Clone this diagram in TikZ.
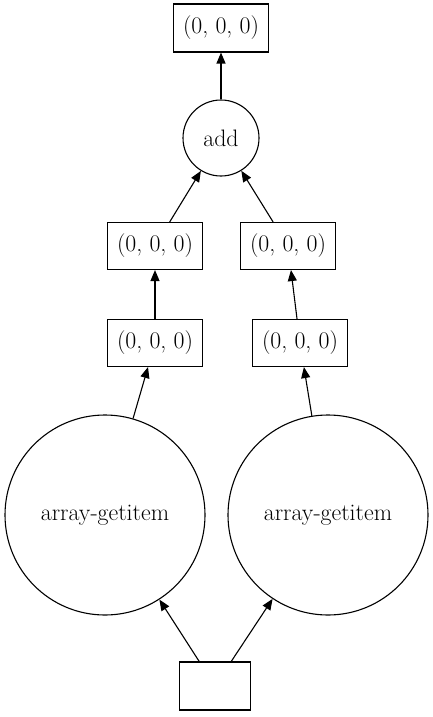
\documentclass[tikz,border=0pt]{standalone}
\usetikzlibrary{arrows.meta}
\begin{document}
\begin{tikzpicture}[x=1pt,y=-1pt,
  every node/.style={font=\fontsize{23.8}{26}\selectfont, line width=1.1pt, inner sep=0pt},
  box/.style={draw, rectangle, minimum width=95pt, minimum height=47pt},
  rnd/.style={draw, circle},
  arr/.style={-{Triangle[length=11pt,width=9pt]}, line width=1.1pt}]
\useasboundingbox (0,0) rectangle (433,717);
\node[box, minimum height=48pt] (top) at (221,28) {(0, 0, 0)};
\node[rnd, minimum size=76pt] (add) at (221,138) {add};
\node[box] (l2) at (155,246) {(0, 0, 0)};
\node[box] (r2) at (288,246) {(0, 0, 0)};
\node[box] (l1) at (155,343) {(0, 0, 0)};
\node[box] (r1) at (300,343) {(0, 0, 0)};
\node[rnd, minimum size=200pt] (lc) at (105,515) {array-getitem};
\node[rnd, minimum size=200pt] (rc) at (328,515) {array-getitem};
\node[box, minimum width=71pt, minimum height=48pt] (bot) at (215,686) {};
\draw[arr] (bot) -- (lc);
\draw[arr] (bot) -- (rc);
\draw[arr] (lc) -- (l1);
\draw[arr] (rc) -- (r1);
\draw[arr] (l1) -- (l2);
\draw[arr] (r1) -- (r2);
\draw[arr] (l2) -- (add);
\draw[arr] (r2) -- (add);
\draw[arr] (add) -- (top);
\end{tikzpicture}
\end{document}
